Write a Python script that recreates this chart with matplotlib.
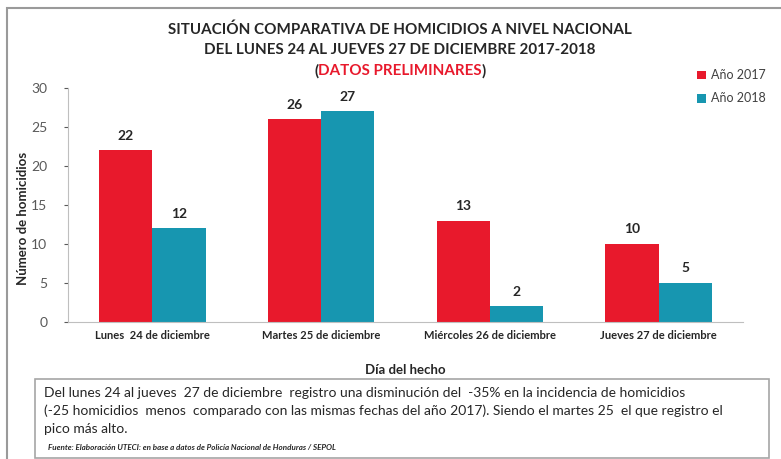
import matplotlib.pyplot as plt
import numpy as np
from matplotlib.patches import Rectangle

# --- Data ---
dias = ['Lunes  24 de diciembre', 'Martes 25 de diciembre',
        'Miércoles 26 de diciembre', 'Jueves 27 de diciembre']
anio_2017 = [22, 26, 13, 10]
anio_2018 = [12, 27, 2, 5]
series_labels = ['Año 2017', 'Año 2018']

red = '#E8192C'
teal = '#1796B0'
dark = '#262626'

plt.rcParams['font.family'] = ['Lato', 'DejaVu Sans']

W, H = 781, 459
fig = plt.figure(figsize=(W / 100, H / 100), dpi=100)

def fx(px):
    return px / W

def fy(py):
    return 1 - py / H

# --- Outer frame ---
fig.patches.append(Rectangle((fx(7), fy(470)), fx(800) - fx(7), fy(8) - fy(470),
                             transform=fig.transFigure, fill=False,
                             edgecolor='#9a9a9a', linewidth=1.5))

# --- Axes ---
ax = fig.add_axes([fx(68), fy(322), fx(743) - fx(68), fy(88) - fy(322)])
x = np.arange(len(dias))
w = 0.315
b1 = ax.bar(x - w / 2, anio_2017, w, color=red, label=series_labels[0])
b2 = ax.bar(x + w / 2, anio_2018, w, color=teal, label=series_labels[1])

for bars in (b1, b2):
    for bar in bars:
        ax.text(bar.get_x() + bar.get_width() / 2, bar.get_height() + 1.1,
                f'{int(bar.get_height())}', ha='center', va='bottom',
                fontsize=10, fontweight='bold', color=dark)

ax.set_xlim(-0.5, len(dias) - 0.5)
ax.set_ylim(0, 30)
ax.set_yticks(range(0, 31, 5))
ax.set_xticks(x)
ax.set_xticklabels(dias, fontsize=8, fontweight='bold', color=dark)
ax.tick_params(axis='x', length=0, pad=6)
ax.tick_params(axis='y', labelsize=10, colors='#595959', length=3, pad=12)
for s in ['top', 'right']:
    ax.spines[s].set_visible(False)
for s in ['left', 'bottom']:
    ax.spines[s].set_color('#bfbfbf')

ax.set_ylabel('Número de homicidios', fontsize=9.5, fontweight='bold', color=dark)
ax.yaxis.set_label_coords(-(68 - 29) / (743 - 68), (322 - 218) / (322 - 88))
ax.set_xlabel('Día del hecho', fontsize=9.5, fontweight='bold', color=dark,
              labelpad=16)

ax.legend(loc='upper left', bbox_to_anchor=(fx(686), fy(58)),
          bbox_transform=fig.transFigure, frameon=False, fontsize=9,
          handlelength=0.7, handleheight=0.7, handletextpad=0.4,
          labelspacing=0.9, labelcolor='#404040')

# --- Title ---
tsize = 10.9
fig.text(fx(400), fy(30), 'SITUACIÓN COMPARATIVA DE HOMICIDIOS A NIVEL NACIONAL',
         ha='center', va='center', fontsize=tsize, fontweight='bold', color=dark)
fig.text(fx(400), fy(50), 'DEL LUNES 24 AL JUEVES 27 DE DICIEMBRE 2017-2018',
         ha='center', va='center', fontsize=tsize, fontweight='bold', color=dark)
mid = fig.text(fx(400), fy(71), 'DATOS PRELIMINARES', ha='center', va='center',
               fontsize=tsize, fontweight='bold', color=red)
fig.canvas.draw()
bb = mid.get_window_extent().transformed(fig.transFigure.inverted())
fig.text(bb.x0, fy(71), '(', ha='right', va='center', fontsize=tsize,
         fontweight='bold', color=dark)
fig.text(bb.x1, fy(71), ')', ha='left', va='center', fontsize=tsize,
         fontweight='bold', color=dark)

# --- Note box ---
fig.patches.append(Rectangle((fx(35), fy(458)), fx(769) - fx(35), fy(379) - fy(458),
                             transform=fig.transFigure, fill=False,
                             edgecolor='#a6a6a6', linewidth=1.2))
nota = ['Del lunes 24 al jueves  27 de diciembre  registro una disminución del  -35% en la incidencia de homicidios',
        '(-25 homicidios  menos  comparado con las mismas fechas del año 2017). Siendo el martes 25  el que registro el',
        'pico más alto.']
for i, line in enumerate(nota):
    fig.text(fx(44), fy(393 + 18 * i), line, ha='left', va='center',
             fontsize=10, color=dark)
fig.text(fx(48), fy(447), 'Fuente: Elaboración UTECI: en base a datos de Policía Nacional de Honduras / SEPOL',
         ha='left', va='center', fontsize=5.8, fontweight='bold', style='italic',
         color=dark)

fig.savefig('out.png', dpi=100)
